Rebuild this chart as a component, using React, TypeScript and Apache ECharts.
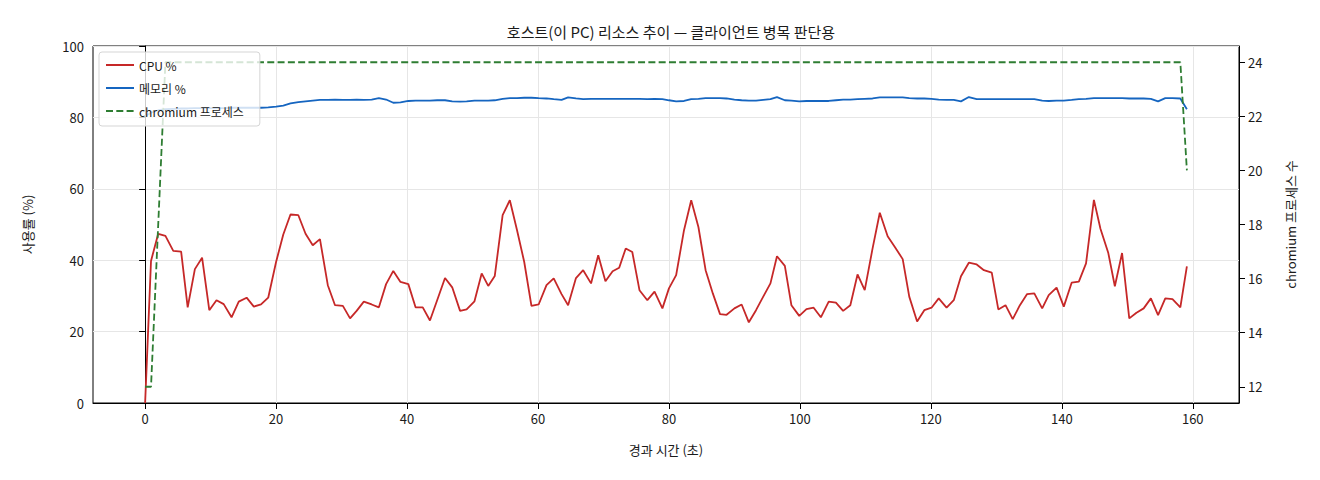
import React, { useEffect, useRef } from 'react';
import * as echarts from 'echarts';

// elapsed seconds of each sample
const times = [
  0.0, 0.9, 2.0, 3.1, 4.3, 5.5, 6.5, 7.6, 8.7, 9.8,
  10.9, 12.0, 13.2, 14.3, 15.5, 16.6, 17.7, 18.8,
  20.0, 21.1, 22.2, 23.4, 24.5, 25.6, 26.7, 27.9, 29.0,
  30.2, 31.3, 32.3, 33.4, 34.6, 35.7, 36.8, 37.9, 39.0,
  40.2, 41.3, 42.4, 43.5, 44.6, 45.8, 46.9, 48.1, 49.1,
  50.3, 51.4, 52.4, 53.4, 54.6, 55.7, 56.8, 57.9, 59.0,
  60.1, 61.3, 62.4, 63.6, 64.6, 65.8, 66.9, 68.1, 69.2,
  70.3, 71.4, 72.4, 73.4, 74.4, 75.5, 76.7, 77.8, 79.0,
  80.0, 81.1, 82.3, 83.4, 84.5, 85.6, 86.7, 87.8, 88.8,
  90.0, 91.1, 92.2, 93.3, 94.4, 95.5, 96.5, 97.7, 98.7, 99.9,
  101.0, 102.1, 103.2, 104.4, 105.5, 106.6, 107.7, 108.8, 109.9,
  111.1, 112.2, 113.4, 114.5, 115.7, 116.7, 117.9, 119.0,
  120.1, 121.2, 122.4, 123.5, 124.6, 125.8, 127.0, 128.1, 129.3,
  130.3, 131.4, 132.5, 133.6, 134.7, 135.8, 137.0, 138.0, 139.2,
  140.3, 141.5, 142.6, 143.7, 144.9, 145.9, 147.1, 148.1, 149.2,
  150.3, 151.4, 152.5, 153.6, 154.7, 155.8, 156.9, 158.1, 159.1,
];

const cpuPct = [
  0, 39.8, 47.4, 46.8, 42.6, 42.4, 26.8, 37.5, 40.7, 26.0,
  28.8, 27.7, 24.0, 28.4, 29.5, 27.0, 27.6, 29.5,
  39.5, 47.2, 52.8, 52.6, 47.4, 44.2, 45.9, 33.0, 27.4,
  27.2, 23.7, 25.8, 28.4, 27.6, 26.8, 33.3, 37.0, 33.9,
  33.3, 26.8, 26.8, 23.1, 28.8, 35.0, 32.4, 25.8, 26.2,
  28.5, 36.3, 32.8, 35.6, 52.6, 56.8, 48.4, 39.5, 27.2,
  27.6, 33.0, 34.9, 30.5, 27.4, 35.0, 37.2, 33.5, 41.4,
  34.1, 36.9, 37.9, 43.3, 42.3, 31.6, 28.8, 31.2, 26.5,
  32.1, 35.8, 48.4, 56.8, 49.3, 37.2, 30.7, 24.9, 24.7,
  26.5, 27.6, 22.6, 26.0, 29.8, 33.5, 41.1, 38.4, 27.4, 24.4,
  26.3, 26.7, 24.0, 28.4, 28.1, 25.8, 27.4, 36.0, 31.6,
  43.3, 53.3, 46.7, 43.7, 40.3, 29.8, 22.8, 26.0,
  26.7, 29.3, 26.7, 28.8, 35.5, 39.3, 38.8, 37.2, 36.5,
  26.2, 27.4, 23.5, 27.4, 30.5, 30.7, 26.5, 30.2, 32.3,
  27.0, 33.7, 34.0, 39.1, 56.9, 48.8, 42.0, 32.7, 42.0,
  23.7, 25.3, 26.5, 29.3, 24.6, 29.3, 29.1, 26.8, 38.3,
];

const memPct = [
  80.3, 81.3, 82.0, 82.3, 82.4, 82.5, 82.5, 82.6, 82.6, 82.6,
  82.6, 82.6, 82.7, 82.7, 82.7, 82.7, 82.7, 82.8,
  83.0, 83.3, 83.9, 84.3, 84.5, 84.7, 84.9, 84.9, 85.0,
  84.9, 84.9, 85.0, 84.9, 85.0, 85.4, 85.0, 84.1, 84.2,
  84.6, 84.7, 84.7, 84.7, 84.8, 84.8, 84.5, 84.4, 84.5,
  84.7, 84.7, 84.7, 84.8, 85.2, 85.4, 85.4, 85.5, 85.5,
  85.4, 85.3, 85.1, 84.9, 85.6, 85.3, 85.1, 85.2, 85.2,
  85.2, 85.2, 85.2, 85.2, 85.2, 85.2, 85.1, 85.2, 85.1,
  84.8, 84.5, 84.6, 85.1, 85.2, 85.4, 85.4, 85.4, 85.3,
  85.0, 84.8, 84.7, 84.7, 84.9, 85.1, 85.7, 84.8, 84.7, 84.5,
  84.6, 84.6, 84.6, 84.6, 84.8, 85.0, 85.0, 85.1, 85.2,
  85.3, 85.6, 85.6, 85.6, 85.6, 85.4, 85.3, 85.3,
  85.2, 85.0, 84.9, 84.9, 84.5, 85.7, 85.1, 85.1, 85.1,
  85.1, 85.1, 85.1, 85.1, 85.1, 85.1, 84.7, 84.6, 84.7,
  84.7, 84.9, 85.1, 85.2, 85.4, 85.4, 85.4, 85.4, 85.4,
  85.3, 85.3, 85.3, 85.2, 84.5, 85.4, 85.4, 85.3, 82.3,
];

const chromiumCount = [
  12, 12, 18, 24, 24, 24, 24, 24, 24, 24,
  24, 24, 24, 24, 24, 24, 24, 24,
  24, 24, 24, 24, 24, 24, 24, 24, 24,
  24, 24, 24, 24, 24, 24, 24, 24, 24,
  24, 24, 24, 24, 24, 24, 24, 24, 24,
  24, 24, 24, 24, 24, 24, 24, 24, 24,
  24, 24, 24, 24, 24, 24, 24, 24, 24,
  24, 24, 24, 24, 24, 24, 24, 24, 24,
  24, 24, 24, 24, 24, 24, 24, 24, 24,
  24, 24, 24, 24, 24, 24, 24, 24, 24, 24,
  24, 24, 24, 24, 24, 24, 24, 24, 24,
  24, 24, 24, 24, 24, 24, 24, 24,
  24, 24, 24, 24, 24, 24, 24, 24, 24,
  24, 24, 24, 24, 24, 24, 24, 24, 24,
  24, 24, 24, 24, 24, 24, 24, 24, 24,
  24, 24, 24, 24, 24, 24, 24, 24, 20,
];

const xTicks = [0, 20, 40, 60, 80, 100, 120, 140, 160];
const procTicks = [12, 14, 16, 18, 20, 22, 24];

const FONT = '"Noto Sans CJK KR", "Noto Sans", sans-serif';
const INK = '#1a1a1a';

const App = () => {
  const chartRef = useRef<HTMLDivElement>(null);

  useEffect(() => {
    const chart = echarts.init(chartRef.current, null, { renderer: 'svg' });
    const pairs = (ys: number[]) => times.map((t, i) => [t, ys[i]]);

    chart.setOption({
      animation: false,
      textStyle: { fontFamily: FONT },
      title: {
        text: '호스트(이 PC) 리소스 추이 — 클라이언트 병목 판단용',
        left: 666,
        textAlign: 'center',
        top: 19,
        textStyle: { fontSize: 15, fontWeight: 'normal', color: INK, fontFamily: FONT },
      },
      grid: {
        left: 93,
        right: 81,
        top: 46,
        bottom: 77,
        show: true,
        borderColor: '#000',
        borderWidth: 1,
        backgroundColor: 'transparent',
      },
      legend: {
        data: ['CPU %', '메모리 %', 'chromium 프로세스'],
        orient: 'vertical',
        left: 99,
        top: 52,
        itemWidth: 28,
        itemHeight: 14,
        itemGap: 9,
        padding: [6, 16, 8, 6],
        backgroundColor: 'rgba(255,255,255,0.8)',
        borderColor: '#d5d5d5',
        borderWidth: 1,
        borderRadius: 3,
        itemStyle: { opacity: 0 },
        textStyle: { fontSize: 12, lineHeight: 14, color: INK, fontFamily: FONT },
        z: 20,
      },
      xAxis: {
        type: 'value',
        min: -7.96,
        max: 167.06,
        name: '경과 시간 (초)',
        nameLocation: 'middle',
        nameGap: 40,
        nameTextStyle: { fontSize: 13, color: INK },
        axisLine: { show: true, lineStyle: { color: '#000', width: 1 } },
        axisTick: { show: true, customValues: xTicks, length: 6, lineStyle: { color: '#000' } },
        axisLabel: { customValues: xTicks, fontSize: 13, color: INK, margin: 9 },
        splitLine: { show: true, lineStyle: { color: '#e6e6e6', width: 1 } },
      },
      yAxis: [
        {
          type: 'value',
          min: 0,
          max: 100,
          interval: 20,
          name: '사용률 (%)',
          nameLocation: 'middle',
          nameGap: 59,
          nameTextStyle: { fontSize: 13, color: INK },
          axisLine: { show: true, lineStyle: { color: '#000', width: 1 } },
          axisTick: { show: true, length: 6, lineStyle: { color: '#000' } },
          axisLabel: { fontSize: 13, color: INK, margin: 9 },
          splitLine: { show: true, lineStyle: { color: '#e6e6e6', width: 1 } },
        },
        {
          type: 'value',
          position: 'right',
          min: 11.4,
          max: 24.6,
          name: 'chromium 프로세스 수',
          nameLocation: 'middle',
          nameGap: 45,
          nameRotate: 90,
          nameTextStyle: { fontSize: 13, color: INK },
          axisLine: { show: true, lineStyle: { color: '#000', width: 1 } },
          axisTick: { show: true, customValues: procTicks, length: 6, lineStyle: { color: '#000' } },
          axisLabel: { customValues: procTicks, fontSize: 13, color: INK, margin: 9 },
          splitLine: { show: false },
        },
      ],
      series: [
        {
          name: 'CPU %',
          type: 'line',
          yAxisIndex: 0,
          data: pairs(cpuPct),
          symbol: 'none',
          color: '#c62828',
          lineStyle: { color: '#c62828', width: 1.8 },
        },
        {
          name: '메모리 %',
          type: 'line',
          yAxisIndex: 0,
          data: pairs(memPct),
          symbol: 'none',
          color: '#1565c0',
          lineStyle: { color: '#1565c0', width: 1.8 },
        },
        {
          name: 'chromium 프로세스',
          type: 'line',
          yAxisIndex: 1,
          data: pairs(chromiumCount),
          symbol: 'none',
          color: '#2e7d32',
          lineStyle: { color: '#2e7d32', width: 1.8, type: [7, 3.3] },
        },
      ],
    });

    return () => {
      chart.dispose();
    };
  }, []);

  return (
    <div
      ref={chartRef}
      style={{ position: 'absolute', left: 0, top: 0, width: 1320, height: 480 }}
    />
  );
};

export default App;
